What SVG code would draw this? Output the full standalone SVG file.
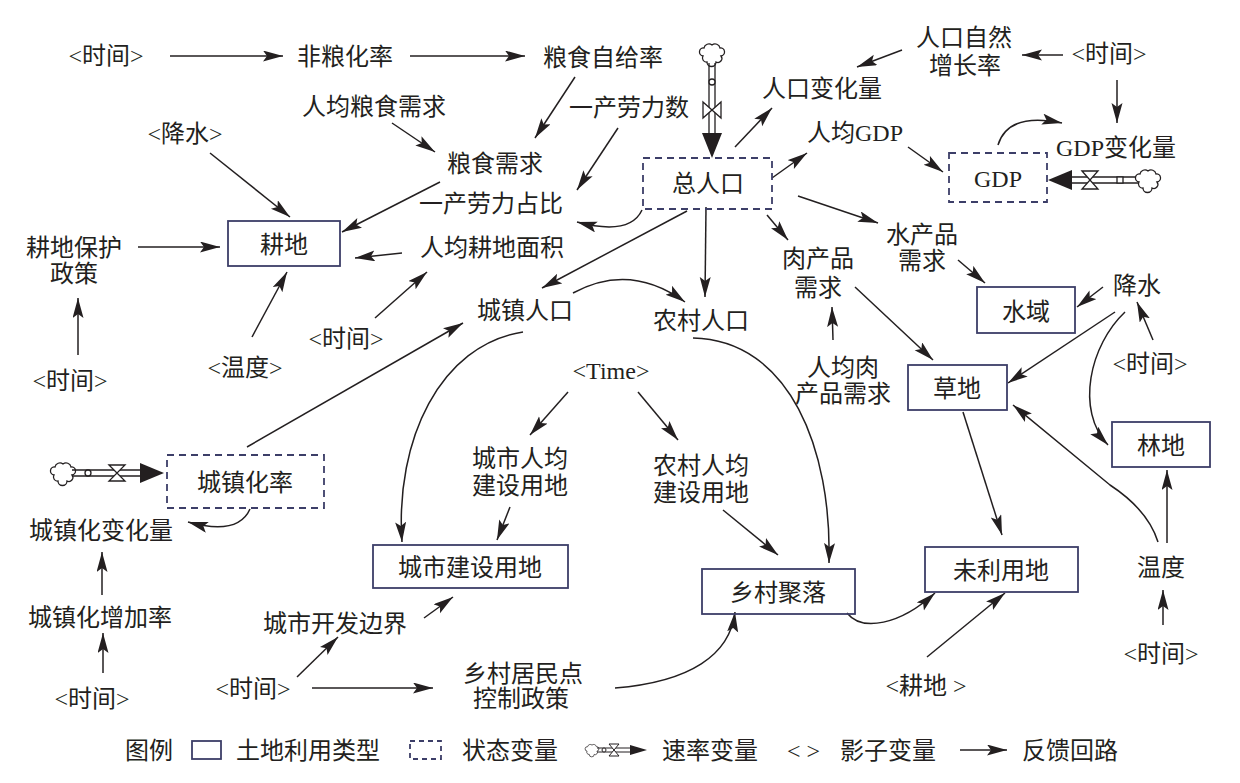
<svg xmlns="http://www.w3.org/2000/svg" width="1240" height="783" viewBox="0 0 1240 783">
<style>
.t{font-family:"Liberation Serif","Noto Sans CJK SC",serif;font-size:24px;fill:#231f20;text-anchor:middle}
.ts{font-family:"Liberation Serif","Noto Sans CJK SC",serif;font-size:24px;fill:#231f20;text-anchor:start}
.box{fill:none;stroke:#3c3e68;stroke-width:1.8}
.dbox{fill:none;stroke:#3c3e68;stroke-width:1.8;stroke-dasharray:7 5}
.c{fill:none;stroke:#231f20;stroke-width:1.5;marker-end:url(#ah)}
.l{fill:none;stroke:#231f20;stroke-width:1.5}
.pipe{fill:none;stroke:#231f20;stroke-width:1.3}
.wf{fill:#fff;stroke:#231f20;stroke-width:1.3}
.bf{fill:#231f20;stroke:none}
</style>
<defs>
<marker id="ah" markerUnits="userSpaceOnUse" markerWidth="22" markerHeight="12" refX="20" refY="5.5" orient="auto">
<path d="M0,0 L20,5.5 L0,11 L4,5.5 Z" fill="#231f20"/>
</marker>
<path id="cloud" d="M-5,8 a4,4 0 0 1 -4,-6 a4,4 0 0 1 1,-8 a5,5 0 0 1 8,-3 a5,5 0 0 1 8,3 a4,4 0 0 1 1,8 a4,4 0 0 1 -5,6 a4,4 0 0 1 -9,0 z" fill="#fff" stroke="#231f20" stroke-width="1.3"/>
</defs>
<rect width="1240" height="783" fill="#fff"/>

<g id="connectors">
<path class="c" d="M170,56 L283,56"/>
<path class="c" d="M410,56 L525,56"/>
<path class="c" d="M575,77 L535,138"/>
<path class="c" d="M392,123 L435,152"/>
<path class="c" d="M618,128 L577,190"/>
<path class="c" d="M440,182 L342,232"/>
<path class="c" d="M402,253 L355,258"/>
<path class="c" d="M210,153 L290,217"/>
<path class="c" d="M138,247 L220,247"/>
<path class="c" d="M78,355 L78,298"/>
<path class="c" d="M252,337 L287,272"/>
<path class="c" d="M375,318 L427,272"/>
<path class="c" d="M642,210 Q630,236 577,222"/>
<path class="c" d="M687,211 L542,288"/>
<path class="c" d="M706,207 L705,297"/>
<path class="c" d="M573,293 Q630,262 685,302"/>
<path class="c" d="M735,147 L772,108"/>
<path class="c" d="M902,50 L857,67"/>
<path class="c" d="M1063,55 L1022,55"/>
<path class="c" d="M1117,80 L1117,123"/>
<path class="c" d="M772,178 L807,153"/>
<path class="c" d="M908,147 L943,172"/>
<path class="c" d="M998,145 Q1008,112 1062,123"/>
<path class="c" d="M798,196 L878,223"/>
<path class="c" d="M958,260 L985,283"/>
<path class="c" d="M1103,287 L1077,307"/>
<path class="c" d="M1153,340 L1137,302"/>
<path class="c" d="M1115,312 L1008,383"/>
<path class="c" d="M1125,312 C1090,345 1075,410 1108,445"/>
<path class="c" d="M767,215 L788,240"/>
<path class="c" d="M855,287 L933,360"/>
<path class="c" d="M833,340 L832,307"/>
<path class="c" d="M963,412 L1002,535"/>
<path class="c" d="M1167,543 L1167,470"/>
<path class="c" d="M1158,542 Q1148,510 1110,485 L1013,405"/>
<path class="c" d="M1163,625 L1163,590"/>
<path class="c" d="M927,657 L1005,593"/>
<path class="c" d="M847,613 C862,632 900,625 935,593"/>
<path class="c" d="M693,338 C790,340 832,450 829,563"/>
<path class="c" d="M723,510 L778,555"/>
<path class="c" d="M638,392 L678,440"/>
<path class="c" d="M568,392 L530,435"/>
<path class="c" d="M510,507 L497,540"/>
<path class="c" d="M523,332 C440,345 395,440 402,542"/>
<path class="c" d="M424,618 L453,597"/>
<path class="c" d="M297,677 L338,637"/>
<path class="c" d="M312,688 L433,688"/>
<path class="c" d="M615,688 C690,682 730,655 735,612"/>
<path class="c" d="M247,447 L463,323"/>
<path class="c" d="M250,509 Q238,536 188,522"/>
<path class="c" d="M102,595 L102,552"/>
<path class="c" d="M103,673 L103,633"/>
</g>

<g id="flow-population">
<use href="#cloud" x="712" y="54"/>
<path class="pipe" d="M709,63 L709,133 M715,63 L715,133"/>
<circle class="wf" cx="712" cy="82" r="3"/>
<polygon class="wf" points="703,102 721,118 721,102 703,118"/>
<polygon class="bf" points="702,133 722,133 712,158"/>
</g>
<g id="flow-gdp">
<polygon class="bf" points="1048,180 1072,170 1072,190"/>
<path class="pipe" d="M1072,177 L1139,177 M1072,183 L1139,183"/>
<polygon class="wf" points="1082,171 1098,189 1082,189 1098,171"/>
<rect class="wf" x="1117" y="177" width="6" height="6"/>
<use href="#cloud" x="1148" y="180"/>
</g>
<g id="flow-urban">
<use href="#cloud" x="63" y="473"/>
<path class="pipe" d="M72,470 L140,470 M72,476 L140,476"/>
<circle class="wf" cx="88" cy="473" r="3"/>
<polygon class="wf" points="109,465 125,481 109,481 125,465"/>
<polygon class="bf" points="140,463 140,483 164,473"/>
</g>

<g id="n-time1"><text class="t" x="106" y="64">&lt;时间&gt;</text></g>
<g id="n-feiliang"><text class="t" x="345" y="65">非粮化率</text></g>
<g id="n-zigeilv"><text class="t" x="603" y="66">粮食自给率</text></g>
<g id="n-renjunliang"><text class="t" x="374" y="115">人均粮食需求</text></g>
<g id="n-yichanshu"><text class="t" x="629" y="116">一产劳力数</text></g>
<g id="n-liangxuqiu"><text class="t" x="495" y="172">粮食需求</text></g>
<g id="n-yichanzhanbi"><text class="t" x="491" y="212">一产劳力占比</text></g>
<g id="n-renjungengdi"><text class="t" x="492" y="256">人均耕地面积</text></g>
<g id="n-jiangshui1"><text class="t" x="185" y="142">&lt;降水&gt;</text></g>
<g id="n-gengdi"><rect class="box" x="228" y="221" width="112" height="45"/><text class="t" x="284" y="253">耕地</text></g>
<g id="n-baohu"><text class="t" x="74" y="256">耕地保护</text><text class="t" x="74" y="282">政策</text></g>
<g id="n-time2"><text class="t" x="70" y="389">&lt;时间&gt;</text></g>
<g id="n-wendu1"><text class="t" x="245" y="376">&lt;温度&gt;</text></g>
<g id="n-time3"><text class="t" x="346" y="347">&lt;时间&gt;</text></g>
<g id="n-zongrenkou"><rect class="dbox" x="643" y="158" width="129" height="51"/><text class="t" x="708" y="192">总人口</text></g>
<g id="n-renkoubianhua"><text class="t" x="822" y="97">人口变化量</text></g>
<g id="n-ziran"><text class="t" x="964" y="46">人口自然</text><text class="t" x="965" y="74">增长率</text></g>
<g id="n-time4"><text class="t" x="1109" y="62">&lt;时间&gt;</text></g>
<g id="n-renjungdp"><text class="t" x="855" y="141">人均GDP</text></g>
<g id="n-gdp"><rect class="dbox" x="949" y="153" width="98" height="49"/><text class="t" x="998" y="187">GDP</text></g>
<g id="n-gdpbianhua"><text class="t" x="1116" y="156">GDP变化量</text></g>
<g id="n-shuichanpin"><text class="t" x="922" y="243">水产品</text><text class="t" x="922" y="269">需求</text></g>
<g id="n-shuiyu"><rect class="box" x="977" y="287" width="98" height="46"/><text class="t" x="1026" y="320">水域</text></g>
<g id="n-jiangshui2"><text class="t" x="1137" y="294">降水</text></g>
<g id="n-time5"><text class="t" x="1150" y="372">&lt;时间&gt;</text></g>
<g id="n-rouchanpin"><text class="t" x="818" y="267">肉产品</text><text class="t" x="818" y="296">需求</text></g>
<g id="n-renjunrou"><text class="t" x="843" y="376">人均肉</text><text class="t" x="843" y="402">产品需求</text></g>
<g id="n-caodi"><rect class="box" x="908" y="365" width="99" height="45"/><text class="t" x="957" y="397">草地</text></g>
<g id="n-lindi"><rect class="box" x="1112" y="422" width="98" height="45"/><text class="t" x="1161" y="454">林地</text></g>
<g id="n-chengzhenrenkou"><text class="t" x="525" y="319">城镇人口</text></g>
<g id="n-nongcunrenkou"><text class="t" x="701" y="329">农村人口</text></g>
<g id="n-time6"><text class="t" x="611" y="379">&lt;Time&gt;</text></g>
<g id="n-chengshirenjun"><text class="t" x="520" y="467">城市人均</text><text class="t" x="520" y="494">建设用地</text></g>
<g id="n-nongcunrenjun"><text class="t" x="701" y="474">农村人均</text><text class="t" x="701" y="501">建设用地</text></g>
<g id="n-chengshijianshe"><rect class="box" x="373" y="545" width="195" height="43"/><text class="t" x="470" y="576">城市建设用地</text></g>
<g id="n-xiangcunjuluo"><rect class="box" x="702" y="569" width="153" height="45"/><text class="t" x="778" y="601">乡村聚落</text></g>
<g id="n-weiliyong"><rect class="box" x="925" y="547" width="153" height="45"/><text class="t" x="1001" y="579">未利用地</text></g>
<g id="n-wendu2"><text class="t" x="1161" y="576">温度</text></g>
<g id="n-time7"><text class="t" x="1161" y="662">&lt;时间&gt;</text></g>
<g id="n-gengdi2"><text class="t" x="926" y="694">&lt;耕地 &gt;</text></g>
<g id="n-chengzhenhualv"><rect class="dbox" x="167" y="455" width="157" height="53"/><text class="t" x="245" y="491">城镇化率</text></g>
<g id="n-bianhualiang"><text class="t" x="101" y="539">城镇化变化量</text></g>
<g id="n-zengjialv"><text class="t" x="100" y="626">城镇化增加率</text></g>
<g id="n-time8"><text class="t" x="92" y="707">&lt;时间&gt;</text></g>
<g id="n-kaifabianjie"><text class="t" x="335" y="632">城市开发边界</text></g>
<g id="n-time9"><text class="t" x="253" y="697">&lt;时间&gt;</text></g>
<g id="n-jumindian"><text class="t" x="523" y="682">乡村居民点</text><text class="t" x="521" y="707">控制政策</text></g>

<g id="legend">
<text class="ts" x="125" y="759">图例</text>
<rect class="box" x="192" y="741" width="29" height="18"/>
<text class="ts" x="236" y="759">土地利用类型</text>
<rect class="dbox" x="410" y="741" width="31" height="18" style="stroke-dasharray:5 4"/>
<text class="ts" x="462" y="759">状态变量</text>
<use href="#cloud" transform="translate(592,750) scale(0.55)"/>
<path class="pipe" d="M597,748 L632,748 M597,752 L632,752" style="stroke-width:1"/>
<circle class="wf" cx="604" cy="750" r="2" style="stroke-width:1"/>
<polygon class="wf" points="609,744 619,756 609,756 619,744" style="stroke-width:1"/>
<polygon class="bf" points="630,745 630,755 647,750"/>
<text class="ts" x="662" y="759">速率变量</text>
<text class="ts" x="787" y="759">&lt; &gt;</text>
<text class="ts" x="840" y="759">影子变量</text>
<path class="c" d="M960,750 L1007,750"/>
<text class="ts" x="1022" y="759">反馈回路</text>
</g>
</svg>
